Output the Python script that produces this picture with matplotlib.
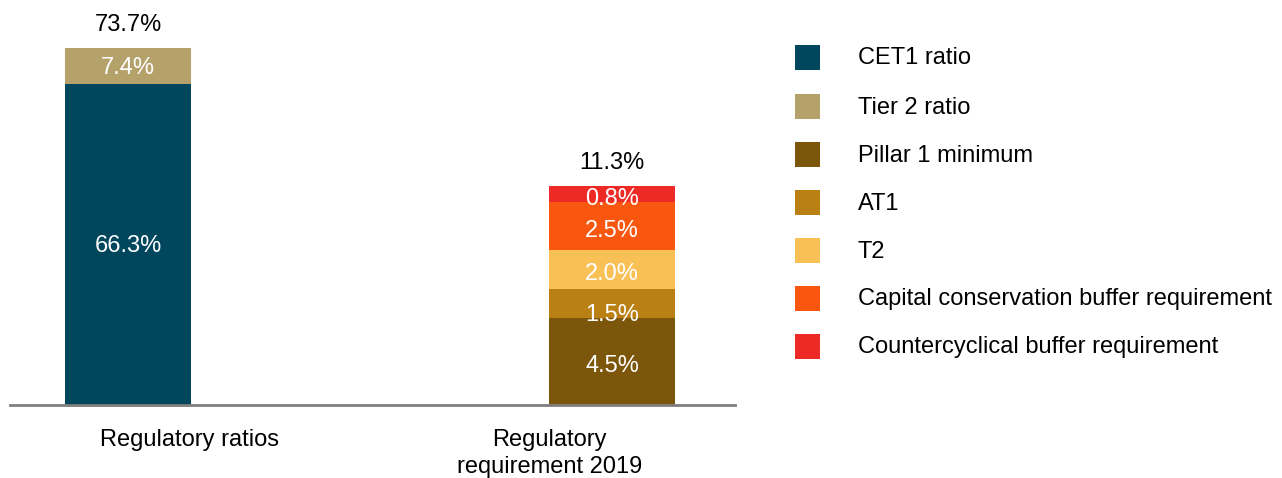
import numpy as np
import matplotlib.pyplot as plt
from matplotlib.patches import Rectangle

plt.rcParams['font.family'] = ['Liberation Sans', 'DejaVu Sans']

# -- data --
categories = ["Regulatory ratios", "Regulatory\nrequirement 2019"]
series_names = ["CET1 ratio", "Tier 2 ratio", "Pillar 1 minimum", "AT1", "T2",
                "Capital conservation buffer requirement",
                "Countercyclical buffer requirement"]
# values per series, one per category
cet1 = [66.3, 0]
tier2 = [7.4, 0]
pillar1 = [0, 4.5]
at1 = [0, 1.5]
t2 = [0, 2.0]
ccb = [0, 2.5]
ccyb = [0, 0.8]
totals = [73.7, 11.3]
# the left bar is drawn at quarter scale in the original chart
bar_scale = [0.25, 1.0]

colors = ["#00475E", "#B5A26A", "#7B560B", "#BA8013", "#F9C055", "#F9560F", "#EE2A27"]
series = [cet1, tier2, pillar1, at1, t2, ccb, ccyb]

W, H = 1282, 478
fig = plt.figure(figsize=(W / 100, H / 100), dpi=100)
ax = fig.add_axes([10 / W, 1 - 405 / H, 725 / W, 405 / H])

x = np.arange(len(categories))
bottom = np.zeros(len(categories))
for vals, col in zip(series, colors):
    h = np.array(vals) * np.array(bar_scale)
    ax.bar(x, h, width=0.26, bottom=bottom, color=col, linewidth=0)
    for i, v in enumerate(vals):
        if v > 0:
            dy = -0.1 if i == 0 else -0.25
            if v == 1.5:
                dy = -0.6
            ax.text(x[i], bottom[i] + h[i] / 2 + dy, f"{v:.1f}%", ha='center', va='center',
                    color='white', fontsize=17)
    bottom += h

for i, t in enumerate(totals):
    ax.text(x[i], bottom[i] + 0.6, f"{t:.1f}%", ha='center', va='bottom', fontsize=17, color='black')

ax.set_xlim(-0.2438, 1.254)
ax.set_ylim(0, 20.9)
for s in ['top', 'right', 'left']:
    ax.spines[s].set_visible(False)
ax.spines['bottom'].set_color('#7f7f7f')
ax.spines['bottom'].set_linewidth(2)
ax.set_yticks([])
# category labels sit off the bar centres in the original
ax.set_xticks([x[0] + 0.128, x[1] - 0.13])
ax.set_xticklabels(categories, fontsize=17, linespacing=1.32)
ax.tick_params(axis='x', length=0, pad=17)

# -- legend --
ys = [57, 106, 154, 202, 250, 298, 346]
for name, col, yy in zip(series_names, colors, ys):
    fig.patches.append(Rectangle((795 / W, 1 - (yy + 12.5) / H), 25 / W, 25 / H,
                                 transform=fig.transFigure, color=col, linewidth=0))
    fig.text(858 / W, 1 - (yy + 1.5) / H, name, va='center', ha='left', fontsize=17)

fig.savefig("out.png", dpi=100)
